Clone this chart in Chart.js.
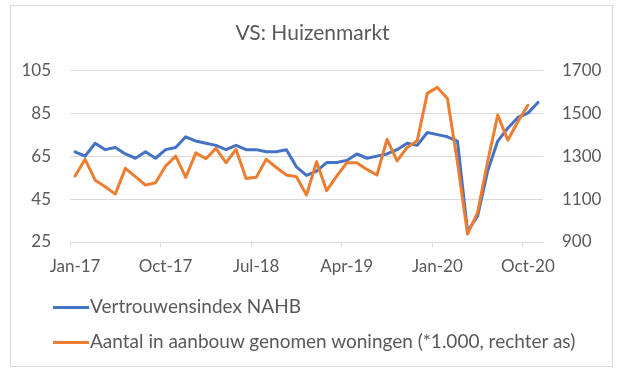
<!DOCTYPE html>
<html>
<head>
<meta charset="utf-8">
<script src="https://cdn.jsdelivr.net/npm/chart.js@4/dist/chart.umd.min.js"></script>
<style>
  html, body { margin: 0; padding: 0; background: #ffffff; }
  #wrap { position: relative; width: 625px; height: 376px; overflow: hidden; background: #fff; }
  #frame { position: absolute; left: 10px; top: 5px; width: 603px; height: 362px; box-sizing: border-box; border: 1px solid #d9d9d9; }
  #c { position: absolute; left: 0; top: 0; }
  .leg { position: absolute; left: 53px; font-family: Lato, sans-serif; font-size: 19px; color: #595959; white-space: nowrap; line-height: 22px; }
  .leg .sw { display: inline-block; width: 36px; height: 3px; vertical-align: middle; margin-right: 1px; position: relative; top: -1px; }
</style>
</head>
<body>
<div id="wrap">
  <div id="frame"></div>
  <canvas id="c" width="625" height="376"></canvas>
  <div id="legend"></div>
</div>
<script>
const titleText = 'VS: Huizenmarkt';

const months = [
  'Jan-17','Feb-17','Mar-17','Apr-17','May-17','Jun-17','Jul-17','Aug-17','Sep-17','Oct-17','Nov-17','Dec-17',
  'Jan-18','Feb-18','Mar-18','Apr-18','May-18','Jun-18','Jul-18','Aug-18','Sep-18','Oct-18','Nov-18','Dec-18',
  'Jan-19','Feb-19','Mar-19','Apr-19','May-19','Jun-19','Jul-19','Aug-19','Sep-19','Oct-19','Nov-19','Dec-19',
  'Jan-20','Feb-20','Mar-20','Apr-20','May-20','Jun-20','Jul-20','Aug-20','Sep-20','Oct-20','Nov-20'
];

const nahbLabel = 'Vertrouwensindex NAHB';
const nahbValues = [
  67,65,71,68,69,66,64,67,64,68,69,74,
  72,71,70,68,70,68,68,67,67,68,60,56,
  58,62,62,63,66,64,65,66,68,71,70,76,
  75,74,72,30,37,58,72,78,83,85,90
];

const startsLabel = 'Aantal in aanbouw genomen woningen (*1.000, rechter as)';
const startsValues = [
  1207,1285,1188,1157,1123,1243,1204,1165,1176,1254,1300,1201,
  1315,1288,1336,1269,1331,1196,1201,1285,1247,1212,1204,1119,
  1274,1139,1207,1269,1269,1238,1212,1378,1278,1340,1371,1592,
  1620,1568,1270,937,1037,1275,1491,1374,1460,1537
];

const leftTicks = [25, 45, 65, 85, 105];
const rightTicks = [900, 1100, 1300, 1500, 1700];

const BLUE = '#4472C4';
const ORANGE = '#ED7D31';
const GRID = '#d9d9d9';
const TEXT = '#595959';
const FONT = 'Lato, sans-serif';

// legend (HTML)
const legendEl = document.getElementById('legend');
[[nahbLabel, BLUE, 295], [startsLabel, ORANGE, 330]].forEach(([t, col, top]) => {
  const d = document.createElement('div');
  d.className = 'leg';
  d.style.top = top + 'px';
  const sw = document.createElement('span');
  sw.className = 'sw';
  sw.style.background = col;
  d.appendChild(sw);
  d.appendChild(document.createTextNode(t));
  legendEl.appendChild(d);
});

new Chart(document.getElementById('c'), {
  type: 'line',
  data: {
    labels: months,
    datasets: [
      {
        label: nahbLabel, data: nahbValues, yAxisID: 'y',
        borderColor: BLUE, backgroundColor: BLUE, borderWidth: 3,
        pointRadius: 0, tension: 0, borderJoinStyle: 'round', borderCapStyle: 'round', order: 2
      },
      {
        label: startsLabel, data: startsValues, yAxisID: 'y1',
        borderColor: ORANGE, backgroundColor: ORANGE, borderWidth: 3,
        pointRadius: 0, tension: 0, borderJoinStyle: 'round', borderCapStyle: 'round', order: 1
      }
    ]
  },
  options: {
    responsive: false,
    animation: false,
    devicePixelRatio: 1,
    layout: { padding: { left: 0, right: 0, top: 0, bottom: 94 } },
    plugins: {
      legend: { display: false },
      tooltip: { enabled: false },
      title: {
        display: true, text: titleText, color: TEXT,
        font: { family: FONT, size: 21, weight: 'normal' },
        padding: { top: 21, bottom: 24 }
      }
    },
    scales: {
      x: {
        type: 'category',
        offset: true,
        afterFit: s => { s.height = 40; },
        grid: {
          display: true, drawOnChartArea: false, drawTicks: true, tickLength: 5, offset: true,
          color: ctx => (ctx.index !== undefined && ctx.index % 9 === 0) ? GRID : 'rgba(0,0,0,0)'
        },
        border: { display: true, color: GRID, width: 1 },
        ticks: {
          autoSkip: false, maxRotation: 0, minRotation: 0, padding: 9,
          color: TEXT, font: { family: FONT, size: 17 },
          callback: function(v, i) { return i % 9 === 0 ? months[i] : ''; }
        }
      },
      y: {
        position: 'left', min: 25, max: 105,
        afterFit: s => { s.width = 70; },
        afterBuildTicks: s => { s.ticks = leftTicks.map(v => ({ value: v })); },
        grid: { color: GRID, lineWidth: 1, drawTicks: false },
        border: { display: false },
        ticks: { padding: 19, color: TEXT, font: { family: FONT, size: 17 }, callback: v => String(v) }
      },
      y1: {
        position: 'right', min: 900, max: 1700,
        afterFit: s => { s.width = 82; },
        afterBuildTicks: s => { s.ticks = rightTicks.map(v => ({ value: v })); },
        grid: { display: false, drawOnChartArea: false, drawTicks: false },
        border: { display: false },
        ticks: { padding: 19, color: TEXT, font: { family: FONT, size: 17 }, callback: v => String(v) }
      }
    }
  }
});
</script>
</body>
</html>
